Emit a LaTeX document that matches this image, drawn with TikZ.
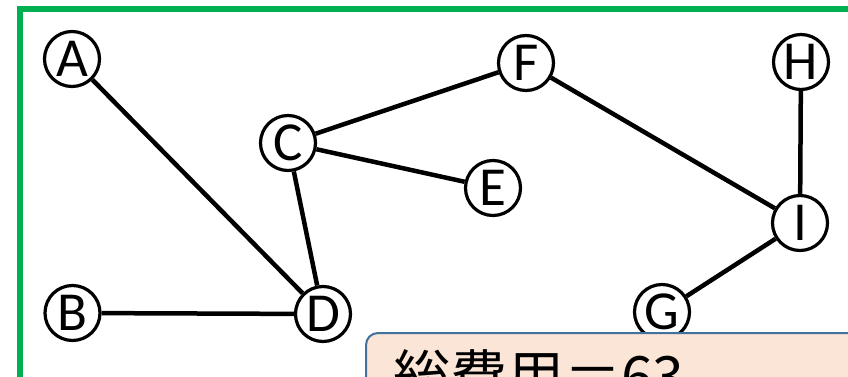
\documentclass[tikz,border=0pt]{standalone}
\usepackage{fontspec}
\setmainfont{Carlito}
\newfontfamily\jpfont{Noto Sans CJK JP}
\definecolor{framegreen}{HTML}{00B050}
\definecolor{boxfill}{HTML}{FBE5D6}
\definecolor{boxdraw}{HTML}{41719C}
\tikzset{
  vertex/.style={circle, draw=black, line width=3.2pt, fill=white, minimum size=55pt, inner sep=0pt, font=\fontsize{55}{55}\selectfont},
  link/.style={line width=4.5pt, black},
  costbox/.style={draw=boxdraw, line width=2pt, fill=boxfill, rounded corners=12pt, anchor=north west, minimum width=520pt, minimum height=120pt},
}
\begin{document}
\begin{tikzpicture}[x=1pt,y=-1pt]
\useasboundingbox (0,0) rectangle (848,377);
\clip (0,0) rectangle (848,377);
\draw[framegreen, line width=5.5pt] (20,420) -- (20,9) -- (900,9);
\node[vertex] (A) at (72,59) {A};
\node[vertex] (B) at (72.5,313) {B};
\node[vertex] (C) at (288,143) {C};
\node[vertex] (D) at (323,314) {D};
\node[vertex] (E) at (493,188) {E};
\node[vertex] (F) at (526,63) {F};
\node[vertex] (G) at (662,312) {G};
\node[vertex] (H) at (801,62) {H};
\node[vertex] (I) at (800,223) {I};
\draw[link] (A) -- (D);
\draw[link] (B) -- (D);
\draw[link] (C) -- (D);
\draw[link] (C) -- (E);
\draw[link] (C) -- (F);
\draw[link] (F) -- (I);
\draw[link] (H) -- (I);
\draw[link] (I) -- (G);
\node[costbox] (box) at (365,332) {};
\node[anchor=base west, inner sep=0pt, font=\jpfont\fontsize{57}{57}\selectfont] (cost) at (393,397) {総費用＝63};
\end{tikzpicture}
\end{document}
